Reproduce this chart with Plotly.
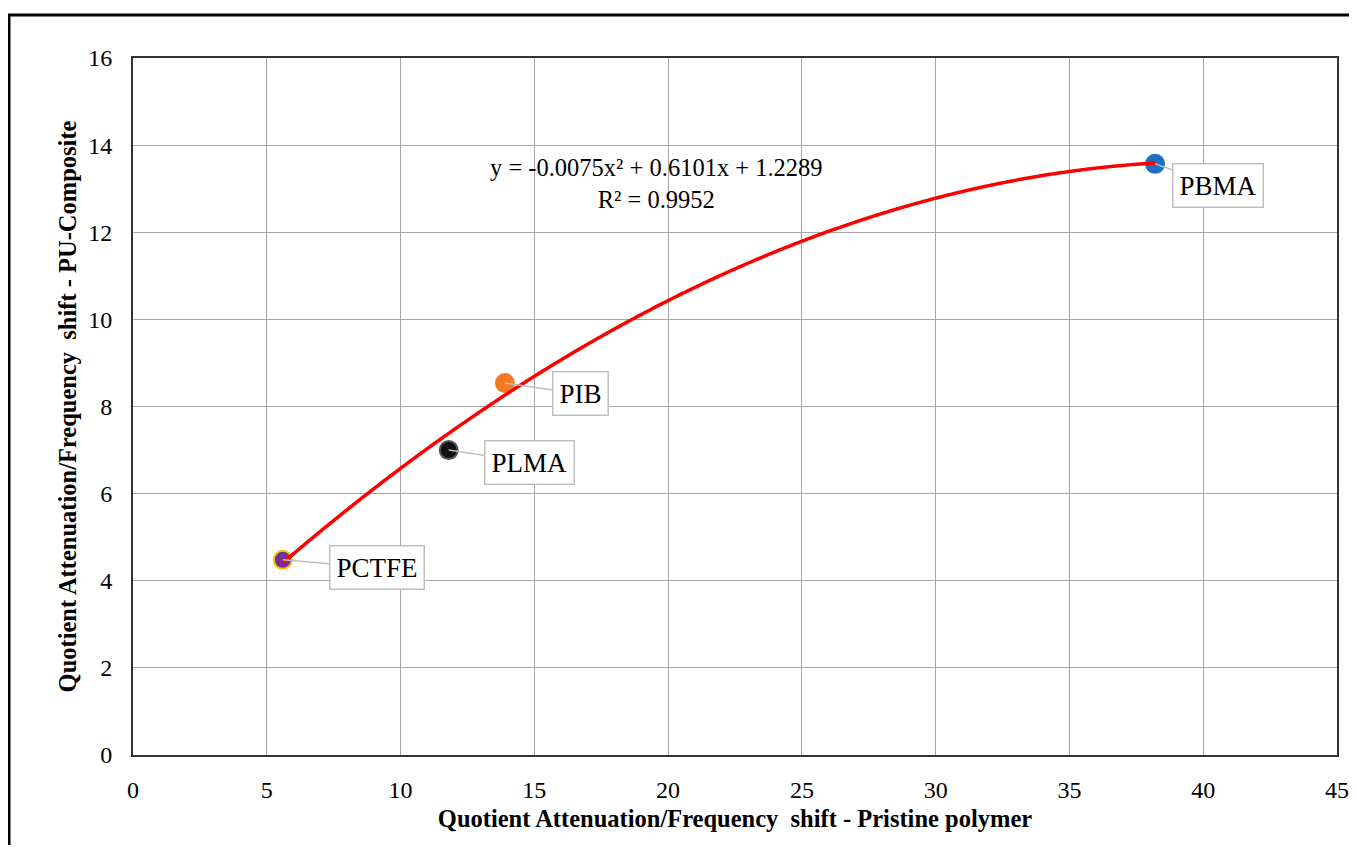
import numpy as np
import plotly.graph_objects as go

# Data
names = ["PCTFE", "PLMA", "PIB", "PBMA"]
x_vals = [5.6, 11.8, 13.9, 38.2]
y_vals = [4.48, 7.0, 8.54, 13.57]
marker_colors = ["#7030A0", "#111111", "#F47B20", "#1F6FC5"]
marker_edges = ["#FFC000", "#555555", "#F47B20", "#1F6FC5"]
label_offsets = [(94, 8), (81, 12), (76, 11), (63, 22)]

# Trendline coefficients (as shown on chart)
coef = [-0.0075, 0.6101, 1.2289]
eq_text = "y = -0.0075x² + 0.6101x + 1.2289<br>R² = 0.9952"

x_ticks = [0, 5, 10, 15, 20, 25, 30, 35, 40, 45]
y_ticks = [0, 2, 4, 6, 8, 10, 12, 14, 16]

FONT = "Liberation Serif, Times New Roman, serif"

fig = go.Figure()
for n, xv, yv, c, e in zip(names, x_vals, y_vals, marker_colors, marker_edges):
    fig.add_trace(go.Scatter(x=[xv], y=[yv], mode="markers", name=n,
                             marker=dict(size=18, color=c, line=dict(color=e, width=2)),
                             showlegend=False))

xt = np.linspace(min(x_vals), max(x_vals), 300)
yt = np.polyval(coef, xt)
fig.add_trace(go.Scatter(x=xt, y=yt, mode="lines", line=dict(color="#FF0000", width=3.5, shape="spline"),
                         showlegend=False, hoverinfo="skip"))

for n, xv, yv, (ax, ay) in zip(names, x_vals, y_vals, label_offsets):
    fig.add_annotation(x=xv, y=yv, text=n, showarrow=True, ax=ax, ay=ay,
                       arrowhead=0, arrowwidth=1.5, arrowcolor="#BFBFBF",
                       bordercolor="#BFBFBF", borderwidth=1.5, borderpad=6,
                       bgcolor="white", font=dict(family=FONT, size=27, color="black"))

fig.add_annotation(x=19.57, y=13.13, xref="x", yref="y", text=eq_text, showarrow=False,
                   font=dict(family=FONT, size=24.5, color="black"), align="center")

# outer frame
fig.add_shape(type="rect", xref="paper", yref="paper",
              x0=(9 - 133) / 1204, x1=1.05, y0=-0.2, y1=(755 - 15) / 697,
              line=dict(color="black", width=3), layer="below")

axis_common = dict(showgrid=True, gridcolor="#A6A6A6", gridwidth=1, zeroline=False,
                   showline=True, linecolor="#333333", linewidth=2, mirror=True,
                   ticks="", tickfont=dict(family=FONT, size=24, color="black"),
                   ticklabeloverflow="allow", automargin=False)

fig.update_xaxes(range=[0, 45], tickvals=x_ticks, ticklabelstandoff=12,
                 title=dict(text="<b>Quotient Attenuation/Frequency  shift - Pristine polymer</b>",
                            font=dict(family=FONT, size=24.5, color="black"), standoff=8),
                 **axis_common)
fig.update_yaxes(range=[0, 16], tickvals=y_ticks, ticklabelstandoff=14,
                 title=dict(text="<b>Quotient Attenuation/Frequency  shift - PU-Composite</b>",
                            font=dict(family=FONT, size=24.5, color="black"), standoff=5),
                 **axis_common)

fig.update_layout(width=1341, height=837, plot_bgcolor="white", paper_bgcolor="white",
                  margin=dict(l=125, r=12, t=50, b=90), font=dict(family=FONT))

fig.write_html("out.html")
